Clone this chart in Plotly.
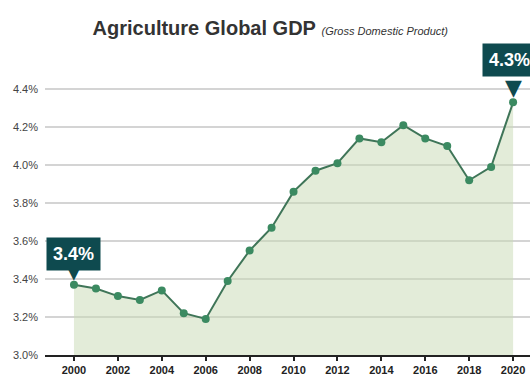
import plotly.graph_objects as go

years = list(range(2000, 2021))
gdp_share = [3.37, 3.35, 3.31, 3.29, 3.34, 3.22, 3.19, 3.39, 3.55, 3.67, 3.86,
             3.97, 4.01, 4.14, 4.12, 4.21, 4.14, 4.10, 3.92, 3.99, 4.33]
y_ticks = [3.0, 3.2, 3.4, 3.6, 3.8, 4.0, 4.2, 4.4]
y_tick_labels = ["3.0%", "3.2%", "3.4%", "3.6%", "3.8%", "4.0%", "4.2%", "4.4%"]
x_ticks = list(range(2000, 2021, 2))
callout_years = [2000, 2020]
callout_labels = ["3.4%", "4.3%"]
callout_xshift = [0, -4]
callout_lift = [14, 25]
pointer_size = [15, 22]

FONT = "Liberation Sans"
TEAL = "#0e4a4f"

fig = go.Figure()
fig.add_trace(go.Scatter(
    x=years, y=gdp_share, mode="lines+markers",
    line=dict(color="#3f7558", width=2),
    marker=dict(color="#3b8a61", size=8),
    fill="tozeroy", fillcolor="rgba(200,218,180,0.5)",
    hoverinfo="skip", showlegend=False,
))

for yr, lab, sh, lift, ps in zip(callout_years, callout_labels, callout_xshift,
                                 callout_lift, pointer_size):
    val = gdp_share[years.index(yr)]
    fig.add_annotation(x=yr, y=val, xref="x", yref="y", text="▼",
                       showarrow=False, yanchor="bottom", yshift=0,
                       font=dict(family="DejaVu Sans", size=ps, color=TEAL))
    fig.add_annotation(x=yr, y=val, xref="x", yref="y", text=f"<b>{lab}</b>",
                       showarrow=False, yanchor="bottom", yshift=lift, xshift=sh,
                       bgcolor=TEAL, borderpad=6,
                       font=dict(family=FONT, size=18, color="white"))

fig.update_layout(
    width=530, height=377,
    margin=dict(l=45, r=0, t=60, b=22),
    paper_bgcolor="white", plot_bgcolor="white",
    title=dict(
        text="<b>Agriculture Global GDP</b> <span style='font-size:11px'><i>(Gross Domestic Product)</i></span>",
        x=0.51, xanchor="center", y=0.925, yanchor="middle",
        font=dict(family=FONT, size=20, color="#333333"),
    ),
    xaxis=dict(
        range=[1998.68, 2020.77], tickvals=x_ticks, ticktext=[f"<b>{t}</b>" for t in x_ticks],
        showgrid=False, zeroline=False, showline=True, linecolor="#222222", linewidth=2,
        ticks="outside", ticklen=4, tickwidth=1.5, tickcolor="#222222",
        tickfont=dict(family=FONT, size=11, color="#222222"),
    ),
    yaxis=dict(
        range=[3.0, 4.553], tickvals=y_ticks, ticktext=y_tick_labels,
        showgrid=True, gridcolor="#d4d4d4", gridwidth=2, zeroline=False,
        showline=False, ticks="", ticklabelstandoff=6,
        tickfont=dict(family=FONT, size=11, color="#444444"),
    ),
)

fig.write_html("out.html")
